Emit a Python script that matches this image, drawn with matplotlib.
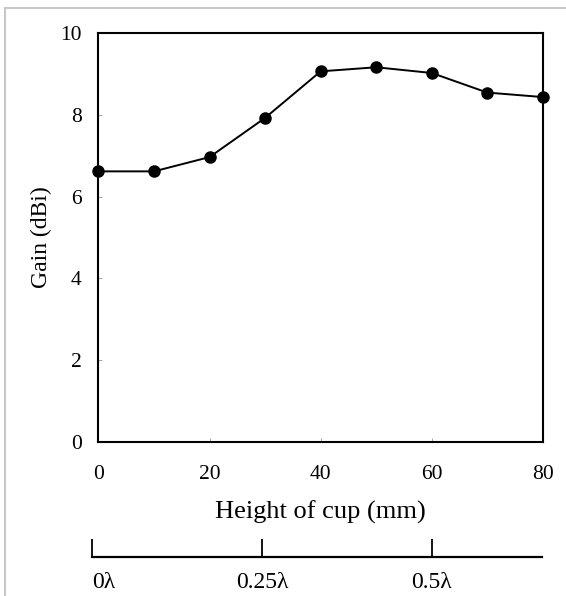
import numpy as np
import matplotlib
matplotlib.use('Agg')
import matplotlib.pyplot as plt
from matplotlib.lines import Line2D

plt.rcParams['font.family'] = ['Liberation Serif', 'DejaVu Serif']

# data
height_mm = [0, 10, 20, 30, 40, 50, 60, 70, 80]
gain_dbi = [6.62, 6.62, 6.97, 7.93, 9.07, 9.17, 9.03, 8.55, 8.44]

x_ticks = [0, 20, 40, 60, 80]
y_ticks = [0, 2, 4, 6, 8, 10]

lam_ticks = [0, 0.25, 0.5]
lam_labels = ['0\u03bb', '0.25\u03bb', '0.5\u03bb']

fig = plt.figure(figsize=(5.66, 5.96), dpi=100)

ax = fig.add_axes([0.174, 0.259, 0.785, 0.685])
ax.plot(height_mm, gain_dbi, color='black', lw=1.4, marker='o', ms=8,
        clip_on=False, zorder=3)
ax.set_xlim(0, 80)
ax.set_ylim(0, 10)
ax.set_xticks(x_ticks)
ax.set_yticks(y_ticks)
ax.tick_params(direction='in', length=3, width=0.6, color='#999999',
               labelsize=15.5)
ax.tick_params(axis='x', pad=17)
ax.tick_params(axis='y', pad=12)
for s in ax.spines.values():
    s.set_linewidth(1.5)
ax.set_xlabel('Height of cup (mm)', fontsize=19, labelpad=12)
ax.set_ylabel('Gain (dBi)', fontsize=17, labelpad=6)

# wavelength scale under the plot
ax2 = fig.add_axes([0.163, 0.066, 0.794, 0.03])
ax2.set_xlim(0, 0.662)
ax2.set_ylim(0, 1)
for name in ['top', 'left', 'right']:
    ax2.spines[name].set_visible(False)
ax2.spines['bottom'].set_linewidth(1.6)
ax2.set_yticks([])
ax2.set_xticks(lam_ticks)
ax2.set_xticklabels(lam_labels)
ax2.tick_params(axis='x', direction='in', length=13, width=1.3,
                labelsize=17, pad=11)
ax2.patch.set_visible(False)
labs = ax2.get_xticklabels()
labs[0].set_horizontalalignment('left')

# thin grey frame of the scanned page
fig.add_artist(Line2D([5 / 566, 5 / 566], [0, 1 - 8 / 596],
                      transform=fig.transFigure, color='#c8c8c8', lw=1.5))
fig.add_artist(Line2D([5 / 566, 1], [1 - 8 / 596, 1 - 8 / 596],
                      transform=fig.transFigure, color='#c8c8c8', lw=1.5))

fig.savefig('out.png', dpi=100)
